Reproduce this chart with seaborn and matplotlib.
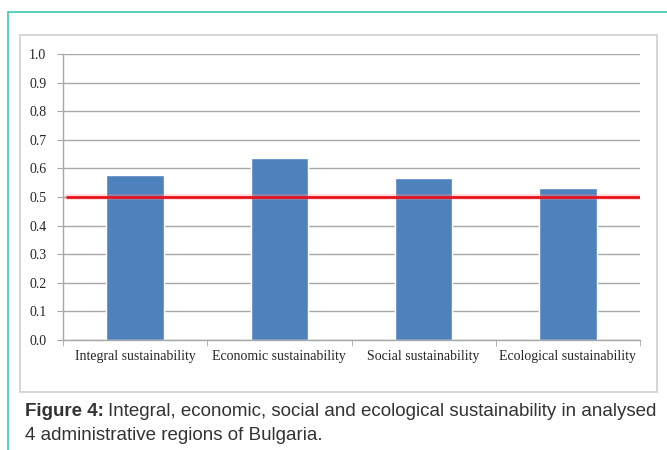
import matplotlib
matplotlib.use("Agg")
import matplotlib.pyplot as plt
import seaborn as sns
import pandas as pd
from matplotlib.patches import Rectangle
from matplotlib.lines import Line2D

# Data
categories = ["Integral sustainability", "Economic sustainability",
              "Social sustainability", "Ecological sustainability"]
values = [0.577, 0.636, 0.567, 0.532]
threshold = 0.5
yticks = [0.0, 0.1, 0.2, 0.3, 0.4, 0.5, 0.6, 0.7, 0.8, 0.9, 1.0]

df = pd.DataFrame({"category": categories, "value": values})

sns.set_style("white")
plt.rcParams["font.family"] = ["Liberation Serif", "DejaVu Serif"]

fig = plt.figure(figsize=(6.67, 4.5), dpi=100)
W, H = 667, 450

# teal page border (top and left)
fig.add_artist(Line2D([8 / W, 1], [1 - 12 / H, 1 - 12 / H], color="#3cc8b4", lw=1.2))
fig.add_artist(Line2D([8 / W, 8 / W], [0, 1 - 12 / H], color="#3cc8b4", lw=1.2))

# light chart frame
fig.add_artist(Rectangle((20 / W, 1 - 392 / H), 637 / W, 357 / H, fill=False,
                         edgecolor="#d0d0d0", lw=1.2))

ax = fig.add_axes([63 / W, 1 - 340 / H, 577 / W, 286 / H])
sns.barplot(data=df, x="category", y="value", color="#4F81BD", width=0.4,
            saturation=1, ax=ax)

# threshold line with a soft glow
ax.axhline(threshold, xmin=0.007, xmax=1, color="#ff9090", lw=4, alpha=0.35, zorder=4)
ax.axhline(threshold, xmin=0.007, xmax=1, color="#e8141c", lw=2, zorder=5)

ax.set_ylim(0, 1.0)
ax.set_xlim(-0.5, 3.5)
ax.set_yticks(yticks)
ax.set_yticklabels([f"{t:.1f}" for t in yticks])
ax.yaxis.grid(True, color="#a8a8a8", lw=1)
ax.set_axisbelow(True)

for s in ["top", "right"]:
    ax.spines[s].set_visible(False)
for s in ["left", "bottom"]:
    ax.spines[s].set_color("#a8a8a8")
    ax.spines[s].set_linewidth(1)

ax.set_xlabel("")
ax.set_ylabel("")
ax.tick_params(axis="y", length=4, color="#a8a8a8", labelsize=10, pad=8, left=True)
ax.tick_params(axis="x", length=0, labelsize=10, pad=7)
ax.set_xticks([-0.5, 0.5, 1.5, 2.5, 3.5], minor=True)
ax.tick_params(axis="x", which="minor", length=4, color="#a8a8a8", bottom=True)

# caption
cap_size = 13.5
t1 = fig.text(25 / W, 1 - 412 / H, "Figure 4:", fontfamily="Liberation Sans",
              fontweight="bold", fontsize=cap_size, color="#333333", va="center")
fig.canvas.draw()
bb = t1.get_window_extent()
fig.text(bb.x1 / W + 4 / W, 1 - 412 / H,
         "Integral, economic, social and ecological sustainability in analysed",
         fontfamily="Liberation Sans", fontsize=cap_size, color="#333333", va="center")
fig.text(25 / W, 1 - 436 / H, "4 administrative regions of Bulgaria.",
         fontfamily="Liberation Sans", fontsize=cap_size, color="#333333", va="center")

fig.savefig("out.png", dpi=100)
